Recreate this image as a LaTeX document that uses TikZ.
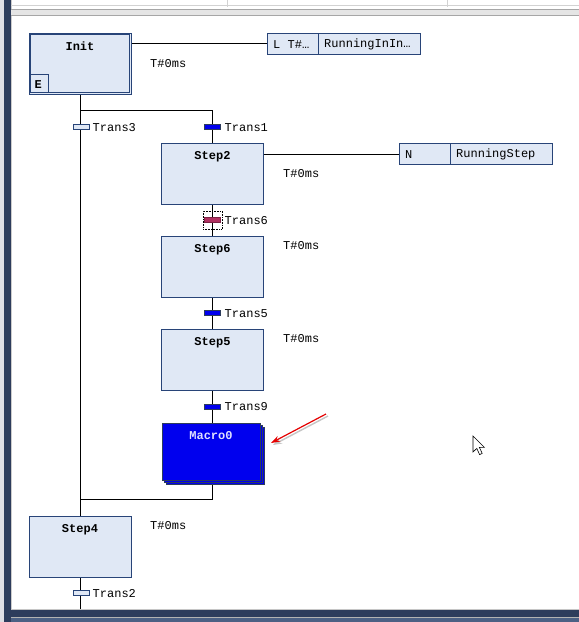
\documentclass[tikz,border=0pt]{standalone}
\usepackage{fontspec}
\setmonofont{Liberation Mono}
\usetikzlibrary{arrows.meta,backgrounds}
\definecolor{stepfill}{RGB}{224,232,245}
\definecolor{stepline}{RGB}{40,68,120}
\definecolor{macroblue}{RGB}{0,0,238}
\definecolor{transred}{RGB}{176,48,96}
\definecolor{navy}{RGB}{45,60,92}
\definecolor{slate}{RGB}{76,96,132}
\definecolor{paneg}{RGB}{222,222,228}
\tikzset{
  stepbox/.style={draw=stepline, fill=stepfill, line width=0.9pt, minimum width=102pt, minimum height=61pt, inner sep=0pt},
  macrobox/.style={draw=navy, fill=macroblue, line width=0.9pt, minimum width=98pt, minimum height=57pt, inner sep=0pt},
  actbox/.style={draw=stepline, fill=stepfill, line width=0.9pt, minimum height=21pt, inner sep=0pt},
  stepname/.style={font=\ttfamily\bfseries\fontsize{12}{12}\selectfont, inner sep=0pt},
  lbl/.style={font=\ttfamily\fontsize{12}{12}\selectfont, inner sep=0pt},
  transL/.style={draw=stepline, fill=stepfill, line width=0.8pt, minimum width=16pt, minimum height=5pt, inner sep=0pt},
  transB/.style={draw=navy, fill=macroblue, line width=0.8pt, minimum width=16pt, minimum height=5pt, inner sep=0pt},
  transR/.style={draw=transred!70!black, fill=transred, line width=0.8pt, minimum width=16pt, minimum height=5pt, inner sep=0pt},
  conn/.style={draw=black, line width=0.8pt},
}
\begin{document}
\begin{tikzpicture}[x=1pt,y=-1pt]
\useasboundingbox (0,0) rectangle (579,622);

% steps
\node[stepbox] (init) at (80,63.5) {};
\draw[stepline, line width=0.8pt] ([shift={(2.2,-2.2)}]init.south west) rectangle ([shift={(-2.2,2.2)}]init.north east);
\node[draw=stepline, line width=0.8pt, minimum width=18pt, minimum height=18pt, inner sep=0pt, anchor=south west] (ebox) at (30,93) {};
\node[stepname, anchor=west] (etxt) at (34.5,85) {E};
\node[stepname] (initt) at (80,46) {Init};

\node[stepbox] (step2) at (212.5,173.5) {};
\node[stepname] (step2t) at (212.5,157) {Step2};
\node[stepbox] (step6) at (212.5,266.5) {};
\node[stepname] (step6t) at (212.5,250) {Step6};
\node[stepbox] (step5) at (212.5,359.5) {};
\node[stepname] (step5t) at (212.5,343) {Step5};
\node[macrobox] (macro2) at (215,455.5) {};
\node[macrobox] (macro1) at (213,453.5) {};
\node[macrobox] (macro) at (211,451.5) {};
\node[stepname, text=white!88!blue] (macrot) at (211,436) {Macro0};
\node[stepbox] (step4) at (80,546.5) {};
\node[stepname] (step4t) at (80,529.5) {Step4};

% time labels
\node[lbl, anchor=west] (tinit) at (150,63.5) {T\#0ms};
\node[lbl, anchor=west] (tstep2) at (283,173.5) {T\#0ms};
\node[lbl, anchor=west] (tstep6) at (283,245.5) {T\#0ms};
\node[lbl, anchor=west] (tstep5) at (283,338.5) {T\#0ms};
\node[lbl, anchor=west] (tstep4) at (150,525.5) {T\#0ms};

% action blocks
\node[actbox, minimum width=51pt] (lq) at (292.5,43.8) {};
\node[actbox, minimum width=102pt] (la) at (369,43.8) {};
\node[lbl, anchor=west] (lqt) at (273,44.3) {L T\#…};
\node[lbl, anchor=west] (lat) at (324,44.3) {RunningInIn…};
\node[actbox, minimum width=51pt] (nq) at (424.5,154) {};
\node[actbox, minimum width=102pt] (na) at (501,154) {};
\node[lbl, anchor=west] (nqt) at (405,154.5) {N};
\node[lbl, anchor=west] (nat) at (456,154.5) {RunningStep};

% transitions
\node[transL] (t3) at (81,127) {};
\node[lbl, anchor=west] (t3l) at (92.5,127.5) {Trans3};
\node[transB] (t1) at (212.5,127) {};
\node[lbl, anchor=west] (t1l) at (224.5,127.5) {Trans1};
\node[transR] (t6) at (212.5,220) {};
\node[draw=black, densely dotted, line width=0.6pt, minimum width=19pt, minimum height=18pt, inner sep=0pt] (t6f) at (212.5,220) {};
\node[lbl, anchor=west] (t6l) at (224.5,220.5) {Trans6};
\node[transB] (t5) at (212.5,313) {};
\node[lbl, anchor=west] (t5l) at (224.5,313.5) {Trans5};
\node[transB] (t9) at (212.5,406.5) {};
\node[lbl, anchor=west] (t9l) at (224.5,407) {Trans9};
\node[transL] (t2) at (81,593) {};
\node[lbl, anchor=west] (t2l) at (92.5,593.5) {Trans2};

% junction coordinates
\coordinate (div) at (80.5,110);
\coordinate (divr) at (212.5,110);
\coordinate (conv) at (80.5,499);
\coordinate (convr) at (212.5,499);
\coordinate (bend) at (80.5,609);

\begin{scope}[on background layer]
% screen frame
\fill[white] (0,0) rectangle (579,622);
\fill[paneg] (0,0) rectangle (4,622);
\fill[navy] (4,0) rectangle (10.5,622);
\draw[gray!40] (11,0) -- (11,609);
\draw[gray!35] (11,5.5) -- (579,5.5);
\draw[gray!35] (227,0) -- (227,7);
\draw[gray!35] (447,0) -- (447,7);
\fill[gray!20] (11,9) rectangle (579,15);
\draw[gray!70] (11,9.5) -- (579,9.5);
\draw[gray!70] (11,14.8) -- (579,14.8);
\draw[gray!45] (11,609.3) -- (579,609.3);
\fill[navy] (11,610) rectangle (579,617);
\fill[slate] (11,617) rectangle (579,622);
\draw[gray!60] (11,617.3) -- (579,617.3);
% connectors
\draw[conn] (init.south -| div) -- (div) -- (t3.north -| div);
\draw[conn] (t3.south -| div) -- (conv) -- (step4.north -| conv);
\draw[conn] (div) -- (divr) -- (t1.north);
\draw[conn] (t1.south) -- (step2.north);
\draw[conn] (step2.south) -- (t6.north);
\draw[conn] (t6.south) -- (step6.north);
\draw[conn] (step6.south) -- (t5.north);
\draw[conn] (t5.south) -- (step5.north);
\draw[conn] (step5.south) -- (t9.north);
\draw[conn] (t9.south) -- (macro.north -| t9);
\draw[conn] (macro2.south -| convr) -- (convr) -- (conv);
\draw[conn] (step4.south -| conv) -- (t2.north -| conv);
\draw[conn] (t2.south -| conv) -- (bend);
\draw[conn] (init.east |- lq.west) -- (lq.west);
\draw[conn] (step2.east |- nq.west) -- (nq.west);
\end{scope}

% red callout arrow with shadow
\coordinate (arS) at (326,414);
\coordinate (arE) at (271,443);
\draw[gray!45, line width=1.4pt, -{Stealth[length=9pt,width=6pt]}] ([shift={(2,2)}]arS) -- ([shift={(2,2)}]arE);
\draw[red!90!black, line width=1.2pt, -{Stealth[length=9pt,width=6pt]}] (arS) -- (arE);

% mouse pointer
\draw[black, fill=white, line width=0.6pt, line join=miter]
  (473,436) -- (473,452) -- (476.8,448.4) -- (479.6,454.6) -- (482.2,453.4) -- (479.4,447.4) -- (484.4,447.4) -- cycle;
\end{tikzpicture}
\end{document}
